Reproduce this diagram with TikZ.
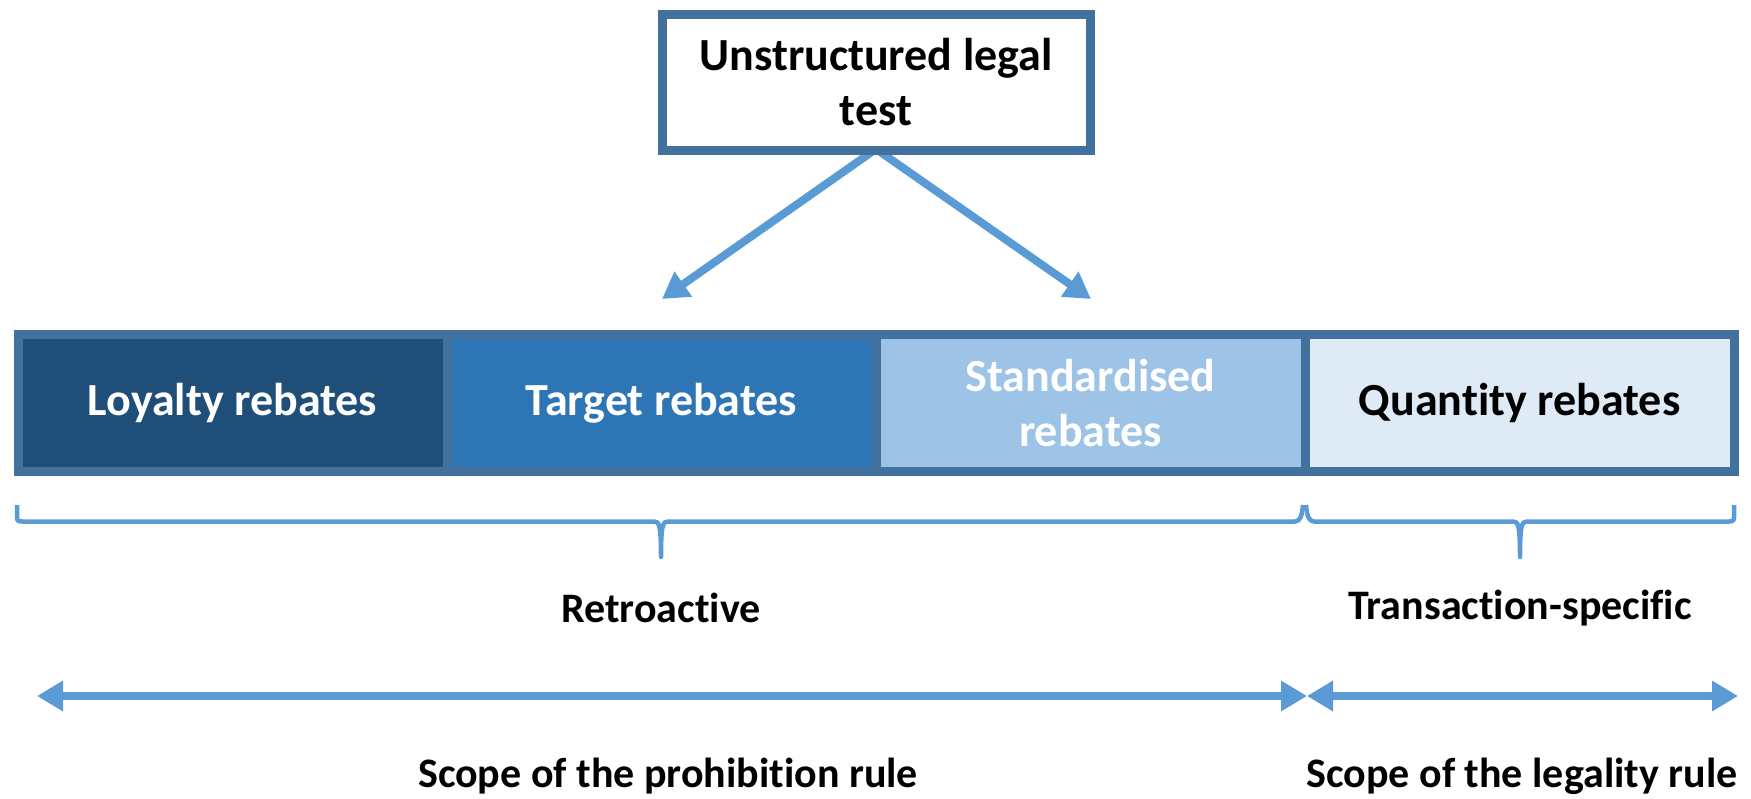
\documentclass[tikz,border=0pt]{standalone}
\usepackage{fontspec}
\setmainfont{Carlito}[Ligatures={NoCommon}]
\usetikzlibrary{arrows.meta}
\definecolor{bordblue}{RGB}{65,113,156}
\definecolor{loyal}{RGB}{31,78,121}
\definecolor{targ}{RGB}{46,117,182}
\definecolor{stand}{RGB}{157,195,230}
\definecolor{quant}{RGB}{222,235,247}
\definecolor{arrowblue}{RGB}{91,155,213}
\pgfdeclarelayer{bg}
\pgfsetlayers{bg,main}
\begin{document}
\begin{tikzpicture}[x=1pt,y=-1pt,
  box/.style={draw=bordblue,line width=9pt,minimum width=429pt,minimum height=136pt,inner sep=0pt,
    font=\bfseries\fontsize{46}{55}\selectfont,align=center},
  lab/.style={font=\bfseries\fontsize{42}{50}\selectfont,inner sep=0pt},
  arr/.style={draw=arrowblue,line width=8pt,-{Triangle[length=26pt,width=29pt]}},
  darr/.style={draw=arrowblue,line width=8pt,{Triangle[length=26pt,width=29pt]}-{Triangle[length=26pt,width=29pt]}},
  bracestyle/.style={draw=arrowblue,line width=4.5pt,line join=round}]
\useasboundingbox (0,0) rectangle (1751,799);

% top box
\node[box,fill=white,minimum width=428pt] (top) at (876,82.5) {Unstructured legal\\test};
\coordinate (tb) at ([yshift=6pt]top.south);
\coordinate (lt) at (662,299);
\coordinate (rt) at (1091,299);
\begin{pgfonlayer}{bg}
\draw[arr] (tb) -- (lt);
\draw[arr] (tb) -- (rt);
\end{pgfonlayer}

% bar of boxes
\node[box,fill=loyal,text=white] (loy) at (232.5,403) {Loyalty rebates};
\node[box,fill=targ,text=white] (tar) at (661.5,403) {Target rebates};
\node[box,fill=stand,text=white] (sta) at (1090.5,403) {Standardised\\rebates};
\node[box,fill=quant,text=black] (qua) at (1519.5,403) {Quantity rebates};

% braces
\draw[bracestyle] (17,505) -- (17,517) .. controls (17,520.5) and (18,521.5) .. (22,521.5)
  -- (654,521.5) .. controls (659,521.5) and (661,524) .. (661,557)
  .. controls (661,524) and (663,521.5) .. (668,521.5)
  -- (1295,521.5) .. controls (1300,521.5) and (1302,516) .. (1303,505);
\draw[bracestyle] (1306,505) .. controls (1307,516) and (1309,521.5) .. (1314,521.5)
  -- (1513,521.5) .. controls (1518,521.5) and (1520,524) .. (1520,557)
  .. controls (1520,524) and (1522,521.5) .. (1527,521.5)
  -- (1729,521.5) .. controls (1733,521.5) and (1734,520.5) .. (1734,517) -- (1734,505);

\node[lab] (retro) at (661,608) {Retroactive};
\node[lab] (trans) at (1520,608) {Transaction-specific};

% scope arrows
\coordinate (al) at (37,696);
\coordinate (am) at (1307,696);
\coordinate (ar) at (1738,696);
\draw[darr] (al) -- (am);
\draw[darr] (am) -- (ar);

\node[lab] (proh) at (668,776) {Scope of the prohibition rule};
\node[lab] (lega) at (1522,776) {Scope of the legality rule};
\end{tikzpicture}
\end{document}
